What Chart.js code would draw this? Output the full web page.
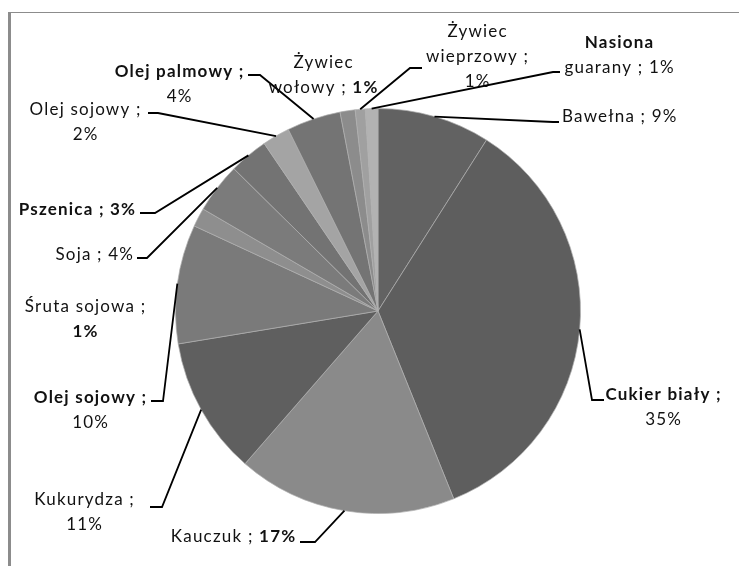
<!DOCTYPE html>
<html>
<head>
<meta charset="utf-8">
<script src="https://cdn.jsdelivr.net/npm/chart.js@4.4.1/dist/chart.umd.min.js"></script>
<style>
  html, body { margin: 0; padding: 0; background: #fff; }
  #chart { display: block; }
</style>
</head>
<body>
<canvas id="chart" width="739" height="566"></canvas>
<script>
// Slices, clockwise from 12 o'clock
const categories = ['Bawełna', 'Cukier biały', 'Kauczuk', 'Kukurydza', 'Olej sojowy', 'Śruta sojowa',
  'Soja', 'Pszenica', 'Olej sojowy', 'Olej palmowy', 'Żywiec wołowy', 'Żywiec wieprzowy', 'Nasiona guarany'];
const shares = [9.0, 34.9, 17.5, 11.0, 9.5, 1.5, 4.0, 3.1, 2.2, 4.3, 1.2, 0.8, 1.0];
const pctLabels = ['9%', '35%', '17%', '11%', '10%', '1%', '4%', '3%', '2%', '4%', '1%', '1%', '1%'];
const sliceColors = ['#626262', '#5e5e5e', '#8a8a8a', '#5f5f5f', '#7a7a7a', '#8e8e8e',
  '#7b7b7b', '#737373', '#a4a4a4', '#747474', '#8c8c8c', '#a0a0a0', '#b2b2b2'];

// Label placement: words per line, bold word indices, anchor, leader elbow/end
const labelLayout = [
  { lines: [3], bold: [], align: 'left', x: 562, y: 117, elbow: [553, 122], end: [559, 122] },
  { lines: [3, 1], bold: [0, 1, 2], align: 'center', x: 663, y: 395, elbow: [592, 400], end: [604, 400] },
  { lines: [3], bold: [2], align: 'center', x: 233, y: 537, elbow: [315, 542], end: [300, 542] },
  { lines: [2, 1], bold: [], align: 'center', x: 84, y: 500, elbow: [162, 507], end: [150, 507] },
  { lines: [3, 1], bold: [0, 1, 2], align: 'center', x: 90, y: 398, elbow: [163, 401], end: [151, 401] },
  { lines: [3, 1], bold: [3], align: 'center', x: 85, y: 307, elbow: null },
  { lines: [3], bold: [], align: 'right', x: 133, y: 255, elbow: [147, 258], end: [137, 258] },
  { lines: [3], bold: [0, 1, 2], align: 'right', x: 135, y: 210, elbow: [155, 213], end: [140, 213] },
  { lines: [3, 1], bold: [], align: 'center', x: 85, y: 110, elbow: [158, 113], end: [148, 113] },
  { lines: [3, 1], bold: [0, 1, 2], align: 'center', x: 179, y: 72, elbow: [260, 75], end: [248, 75] },
  { lines: [1, 3], bold: [3], align: 'center', x: 323, y: 63, elbow: null },
  { lines: [1, 2, 1], bold: [], align: 'center', x: 477, y: 32, elbow: [410, 68], end: [422, 68] },
  { lines: [1, 3], bold: [0], align: 'center', x: 619, y: 43, elbow: [553, 72], end: [560, 72] }
];

const FONT_SIZE = 17;
const LINE_HEIGHT = 25;
const LETTER_SPACING = 1.2;

// Grey frame (left + top edge)
const framePlugin = {
  id: 'frame',
  beforeDraw(chart) {
    const ctx = chart.ctx;
    ctx.save();
    ctx.fillStyle = '#fff';
    ctx.fillRect(0, 0, chart.width, chart.height);
    ctx.fillStyle = '#8c8c8c';
    ctx.fillRect(8, 12, 3, chart.height - 12);
    ctx.fillRect(8, 12, chart.width - 8, 1);
    ctx.restore();
  }
};

// Data labels with leader lines
const labelPlugin = {
  id: 'pieLabels',
  afterDatasetsDraw(chart) {
    const ctx = chart.ctx;
    const arcs = chart.getDatasetMeta(0).data;
    ctx.save();
    ctx.letterSpacing = LETTER_SPACING + 'px';
    arcs.forEach((arc, i) => {
      const lay = labelLayout[i];
      const mid = (arc.startAngle + arc.endAngle) / 2;
      if (lay.elbow) {
        const sx = arc.x + Math.cos(mid) * arc.outerRadius;
        const sy = arc.y + Math.sin(mid) * arc.outerRadius;
        ctx.strokeStyle = '#000';
        ctx.lineWidth = 1.8;
        ctx.beginPath();
        ctx.moveTo(sx, sy);
        ctx.lineTo(lay.elbow[0], lay.elbow[1]);
        ctx.lineTo(lay.end[0], lay.end[1]);
        ctx.stroke();
      }

      const words = `${categories[i]} ; ${pctLabels[i]}`.split(' ');
      let w = 0;
      lay.lines.forEach((count, li) => {
        const segs = [];
        for (let k = 0; k < count; k++, w++) {
          segs.push({ text: words[w] + (k < count - 1 ? ' ' : ''), bold: lay.bold.includes(w) });
        }
        const widths = segs.map(s => {
          ctx.font = `${s.bold ? 'bold ' : ''}${FONT_SIZE}px Lato`;
          return ctx.measureText(s.text).width;
        });
        const total = widths.reduce((a, b) => a + b, 0) - LETTER_SPACING;
        let x = lay.x;
        if (lay.align === 'center') x -= total / 2;
        if (lay.align === 'right') x -= total;
        const y = lay.y + li * LINE_HEIGHT;
        ctx.textBaseline = 'middle';
        ctx.textAlign = 'left';
        ctx.fillStyle = '#111';
        segs.forEach((s, k) => {
          ctx.font = `${s.bold ? 'bold ' : ''}${FONT_SIZE}px Lato`;
          ctx.fillText(s.text, x, y);
          x += widths[k];
        });
      });
    });
    ctx.restore();
  }
};

new Chart(document.getElementById('chart'), {
  type: 'pie',
  data: {
    labels: categories,
    datasets: [{
      data: shares,
      backgroundColor: sliceColors,
      borderColor: 'rgba(175, 175, 175, 0.7)',
      borderWidth: 1
    }]
  },
  options: {
    responsive: false,
    devicePixelRatio: 1,
    animation: false,
    layout: { padding: { left: 175, right: 158, top: 108, bottom: 52 } },
    plugins: {
      legend: { display: false },
      tooltip: { enabled: false }
    }
  },
  plugins: [framePlugin, labelPlugin]
});
</script>
</body>
</html>
